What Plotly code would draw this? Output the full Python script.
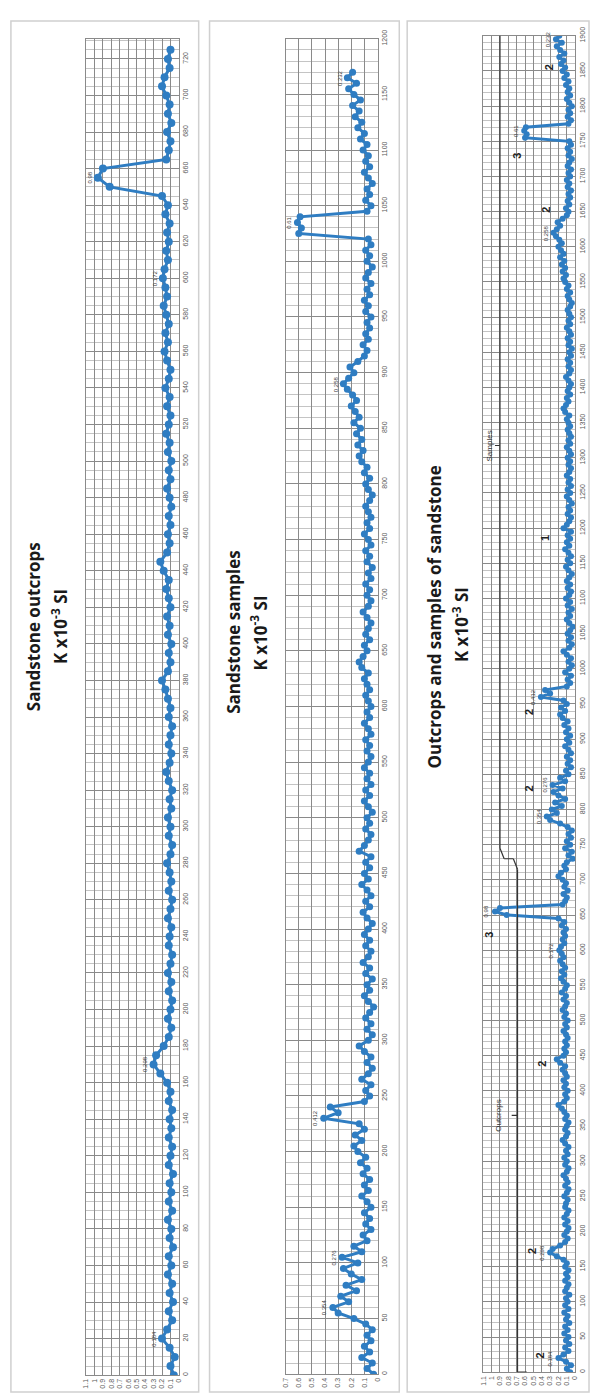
import plotly.graph_objects as go

W, H = 593, 1399

# ---------------- data (every 5th sample) ----------------
outcrop_step = 5
outcrop_k = [
    0.06, 0.10, 0.05, 0.11, 0.20, 0.14, 0.08, 0.12, 0.07, 0.11,   # 0-45
    0.08, 0.13, 0.09, 0.12, 0.07, 0.11, 0.09, 0.13, 0.08, 0.12,   # 50-95
    0.09, 0.11, 0.07, 0.12, 0.10, 0.08, 0.12, 0.09, 0.11, 0.08,   # 100-145
    0.12, 0.10, 0.14, 0.22, 0.30, 0.27, 0.18, 0.12, 0.09, 0.13,   # 150-195
    0.10, 0.08, 0.12, 0.09, 0.13, 0.10, 0.08, 0.12, 0.11, 0.09,   # 200-245
    0.13, 0.10, 0.08, 0.12, 0.09, 0.11, 0.14, 0.10, 0.08, 0.12,   # 250-295
    0.10, 0.13, 0.09, 0.11, 0.08, 0.12, 0.15, 0.11, 0.09, 0.12,   # 300-345
    0.10, 0.08, 0.12, 0.10, 0.13, 0.16, 0.20, 0.13, 0.10, 0.12,   # 350-395
    0.09, 0.13, 0.11, 0.14, 0.10, 0.12, 0.15, 0.12, 0.18, 0.22,   # 400-445
    0.14, 0.11, 0.13, 0.10, 0.12, 0.09, 0.11, 0.14, 0.10, 0.12,   # 450-495
    0.09, 0.13, 0.11, 0.15, 0.12, 0.10, 0.14, 0.11, 0.16, 0.12,   # 500-545
    0.10, 0.14, 0.17, 0.13, 0.16, 0.12, 0.15, 0.18, 0.14, 0.16,   # 550-595
    0.19, 0.17, 0.13, 0.15, 0.12, 0.14, 0.11, 0.16, 0.13, 0.20,   # 600-645
    0.82, 0.96, 0.90, 0.15, 0.12, 0.10, 0.14, 0.09, 0.13, 0.11,   # 650-695
    0.15, 0.20, 0.17, 0.11, 0.13, 0.10,                           # 700-725
]
sample_step = 5
sample_k = [
    0.03, 0.08, 0.04, 0.12, 0.06, 0.10, 0.05, 0.08, 0.04, 0.09,   # 0-45
    0.18, 0.30, 0.34, 0.22, 0.28, 0.16, 0.24, 0.12, 0.20, 0.26,   # 50-95
    0.15, 0.27, 0.12, 0.18, 0.08, 0.11, 0.05, 0.09, 0.06, 0.10,   # 100-145
    0.05, 0.08, 0.12, 0.07, 0.10, 0.06, 0.11, 0.08, 0.13, 0.09,   # 150-195
    0.15, 0.18, 0.12, 0.17, 0.10, 0.14, 0.41, 0.30, 0.36, 0.10,   # 200-245
    0.06, 0.09, 0.05, 0.12, 0.07, 0.04, 0.08, 0.05, 0.10, 0.14,   # 250-295
    0.07, 0.04, 0.08, 0.05, 0.09, 0.06, 0.03, 0.07, 0.10, 0.06,   # 300-345
    0.08, 0.04, 0.09, 0.06, 0.11, 0.07, 0.05, 0.09, 0.06, 0.10,   # 350-395
    0.07, 0.04, 0.08, 0.11, 0.06, 0.09, 0.05, 0.08, 0.12, 0.07,   # 400-445
    0.10, 0.06, 0.09, 0.05, 0.14, 0.10, 0.07, 0.05, 0.09, 0.06,   # 450-495
    0.08, 0.04, 0.07, 0.10, 0.06, 0.09, 0.05, 0.08, 0.06, 0.10,   # 500-545
    0.07, 0.05, 0.08, 0.06, 0.09, 0.05, 0.07, 0.10, 0.06, 0.08,   # 550-595
    0.05, 0.07, 0.09, 0.06, 0.08, 0.10, 0.07, 0.12, 0.14, 0.11,   # 600-645
    0.08, 0.10, 0.06, 0.09, 0.07, 0.05, 0.08, 0.11, 0.07, 0.05,   # 650-695
    0.08, 0.06, 0.09, 0.05, 0.07, 0.04, 0.08, 0.06, 0.09, 0.05,   # 700-745
    0.07, 0.10, 0.06, 0.08, 0.05, 0.07, 0.09, 0.06, 0.04, 0.07,   # 750-795
    0.09, 0.06, 0.10, 0.08, 0.12, 0.14, 0.11, 0.15, 0.12, 0.16,   # 800-845
    0.13, 0.18, 0.14, 0.17, 0.20, 0.16, 0.19, 0.23, 0.26, 0.22,   # 850-895
    0.18, 0.21, 0.15, 0.10, 0.08, 0.11, 0.07, 0.09, 0.06, 0.08,   # 900-945
    0.05, 0.09, 0.07, 0.10, 0.06, 0.08, 0.05, 0.09, 0.07, 0.04,   # 950-995
    0.08, 0.06, 0.09, 0.05, 0.07, 0.60, 0.58, 0.61, 0.59, 0.08,   # 1000-1045
    0.05, 0.09, 0.06, 0.08, 0.04, 0.07, 0.10, 0.06, 0.09, 0.07,   # 1050-1095
    0.11, 0.08, 0.13, 0.10, 0.15, 0.12, 0.17, 0.14, 0.19, 0.13,   # 1100-1145
    0.18, 0.22, 0.16, 0.23, 0.19,                                 # 1150-1170
]

outcrop_labels = {20: "0.184", 170: "0.298", 600: "0.172", 655: "0.98"}
sample_labels = {60: "0.354", 105: "0.276", 230: "0.412", 890: "0.258", 1035: "0.61", 1165: "0.232"}
# bold group numbers written on the combined panel: (index, K position, text)
combo_marks = [(24, 0.42, "2"), (172, 0.52, "2"), (438, 0.40, "2"), (622, 1.03, "3"),
               (830, 0.55, "2"), (939, 0.55, "2"), (1186, 0.36, "1"), (1653, 0.36, "2"),
               (1729, 0.70, "3"), (1856, 0.32, "2")]

outcrop_idx = [i * outcrop_step for i in range(len(outcrop_k))]
sample_idx = [i * sample_step for i in range(len(sample_k))]
n_outcrops = outcrop_idx[-1] + outcrop_step
combo_idx = outcrop_idx + [n_outcrops + s for s in sample_idx]
combo_k = outcrop_k + sample_k

BLUE = "#2f7dc2"
GRID = "#8a8a8a"
MINOR = "#c4c4c4"
TICK = dict(family="Liberation Sans, Arial", size=7, color="#595959")


def px(x):
    return x / W


def py(y):
    return 1 - y / H


panels = [
    dict(xd=(83, 177), yd=(1376, 30), vr=1.1, idx_max=731, idx_dt=20, idx_minor=5),
    dict(xd=(285, 378), yd=(1375, 30), vr=0.7, idx_max=1200, idx_dt=50, idx_minor=10),
    dict(xd=(485, 578), yd=(1373, 27), vr=1.1, idx_max=1900, idx_dt=50, idx_minor=10),
]

fig = go.Figure()
series = [(outcrop_idx, outcrop_k), (sample_idx, sample_k), (combo_idx, combo_k)]
msize = [8, 7, 6]
for n, (p, (idx, k)) in enumerate(zip(panels, series), start=1):
    sfx = "" if n == 1 else str(n)
    fig.add_trace(go.Scatter(
        x=k, y=idx, mode="lines+markers",
        line=dict(color=BLUE, width=3),
        marker=dict(color=BLUE, size=msize[n - 1]),
        xaxis="x" + sfx, yaxis="y" + sfx, showlegend=False,
        hoverinfo="skip"))
    fig.layout["xaxis" + sfx] = dict(
        domain=[px(p["xd"][0]), px(p["xd"][1])],
        range=[p["vr"] + 1e-9, 0], dtick=0.1, tick0=0,
        anchor="y" + sfx, side="bottom", tickangle=-90,
        tickfont=TICK, showgrid=True, gridcolor=GRID, gridwidth=1,
        zeroline=False, showline=True, linecolor=GRID, mirror=True,
        ticks="", fixedrange=True)
    fig.layout["yaxis" + sfx] = dict(
        domain=[py(p["yd"][0]), py(p["yd"][1])],
        range=[0, p["idx_max"]], dtick=p["idx_dt"], tick0=0,
        anchor="x" + sfx, side="right", tickangle=-90,
        tickfont=TICK, showgrid=True, gridcolor=GRID, gridwidth=1,
        minor=dict(dtick=p["idx_minor"], showgrid=True, gridcolor=MINOR, gridwidth=1),
        zeroline=False, showline=True, linecolor=GRID, mirror=True,
        ticks="", fixedrange=True)

# value labels
lab_font = dict(family="Liberation Sans, Arial", size=6, color="#404040")


def nearest(idx, i):
    return min(range(len(idx)), key=lambda q: abs(idx[q] - i))


for ax, labels, idx, k in [("", outcrop_labels, outcrop_idx, outcrop_k),
                           ("2", sample_labels, sample_idx, sample_k)]:
    for i, t in labels.items():
        j = nearest(idx, i)
        fig.add_annotation(x=k[j], y=i, text=t, xref="x" + ax, yref="y" + ax,
                           textangle=-90, showarrow=False, font=lab_font,
                           xanchor="right", yanchor="middle", xshift=-3)
for i, t in list(outcrop_labels.items()) + [(n_outcrops + a, b) for a, b in sample_labels.items()]:
    j = nearest(combo_idx, i)
    fig.add_annotation(x=combo_k[j], y=i, text=t, xref="x3", yref="y3",
                       textangle=-90, showarrow=False, font=lab_font,
                       xanchor="right", yanchor="middle", xshift=-3)
for i, v, t in combo_marks:
    fig.add_annotation(x=v, y=i, text="<b>%s</b>" % t, xref="x3", yref="y3",
                       textangle=-90, showarrow=False, xanchor="center", yanchor="middle",
                       font=dict(family="Liberation Sans, Arial", size=11, color="#222"))

# brackets in third panel
BR = "#333333"
top_end = combo_idx[-1] + 5
o_mid = n_outcrops / 2
s_mid = (n_outcrops + top_end) / 2
for x0, x1, y0, y1 in [(0.69, 0.69, 0, n_outcrops - 15), (0.69, 0.58, 0, 0),
                       (0.90, 0.90, n_outcrops + 15, top_end), (0.90, 0.79, top_end, top_end),
                       (0.69, 0.74, n_outcrops - 15, n_outcrops), (0.90, 0.85, n_outcrops + 15, n_outcrops),
                       (0.74, 0.85, n_outcrops, n_outcrops),
                       (0.69, 0.76, o_mid, o_mid), (0.90, 0.96, s_mid, s_mid)]:
    fig.add_shape(type="line", xref="x3", yref="y3", x0=x0, x1=x1, y0=y0, y1=y1,
                  line=dict(color=BR, width=1.2))
fig.add_annotation(x=0.92, y=o_mid, text="Outcrops", xref="x3", yref="y3",
                   textangle=-90, showarrow=False, xanchor="center", yanchor="middle",
                   font=dict(family="Liberation Sans, Arial", size=8, color="#333"))
fig.add_annotation(x=1.02, y=s_mid, text="Samples", xref="x3", yref="y3",
                   textangle=-90, showarrow=False, xanchor="center", yanchor="middle",
                   font=dict(family="Liberation Sans, Arial", size=8, color="#333"))

# panel frames
for x0, x1 in [(7, 197), (208, 400), (408, 592)]:
    fig.add_shape(type="rect", xref="paper", yref="paper",
                  x0=px(x0), x1=px(x1), y0=py(1393), y1=py(12),
                  line=dict(color="#d0d0d0", width=1.5))

# titles
TF = dict(family="Open Sans, Liberation Sans", size=17, color="#1a1a1a")
titles = [(30, 622, "<b>Sandstone outcrops</b>"), (56, 622, "<b>K x10<sup>-3</sup> SI</b>"),
          (232, 628, "<b>Sandstone samples</b>"), (258, 628, "<b>K x10<sup>-3</sup> SI</b>"),
          (436, 612, "<b>Outcrops and samples of sandstone</b>"),
          (462, 620, "<b>K x10<sup>-3</sup> SI</b>")]
for x, y, t in titles:
    fig.add_annotation(x=px(x), y=py(y), xref="paper", yref="paper", text=t,
                       textangle=-90, showarrow=False, font=TF,
                       xanchor="center", yanchor="middle")

fig.update_layout(width=W, height=H, margin=dict(l=0, r=0, t=0, b=0),
                  paper_bgcolor="white", plot_bgcolor="white")
fig.write_html("out.html", config={"displayModeBar": False},
               post_script="document.body.style.margin='0';document.body.style.overflow='hidden';")
